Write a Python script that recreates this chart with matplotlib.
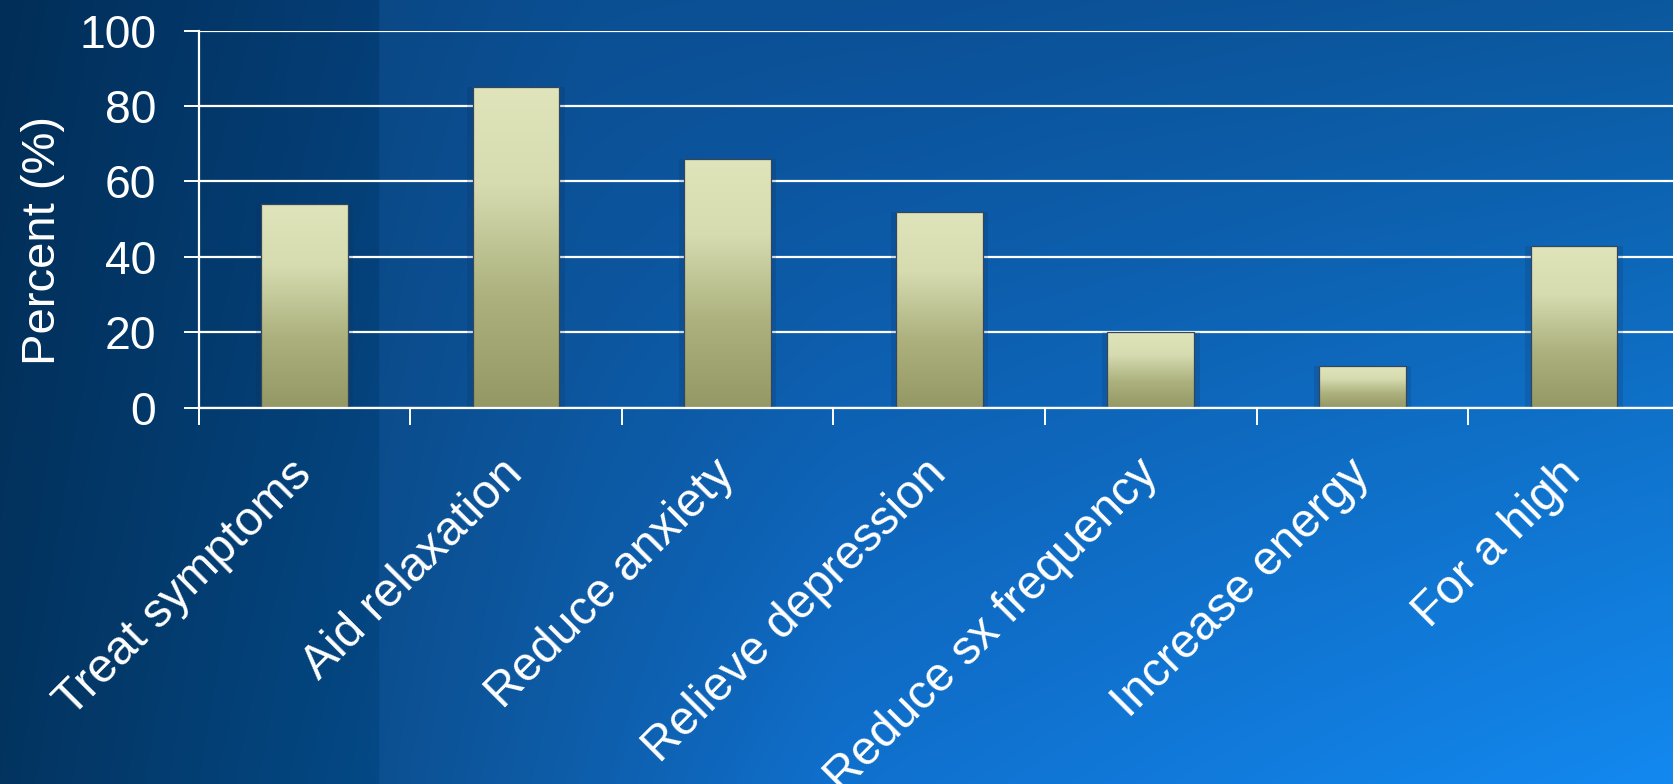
import numpy as np
import matplotlib
matplotlib.use("Agg")
import matplotlib.pyplot as plt

plt.rcParams['font.family'] = ['Liberation Sans', 'DejaVu Sans']

# Survey responses: reasons for use
categories = ["Treat symptoms", "Aid relaxation", "Reduce anxiety", "Relieve depression",
              "Reduce sx frequency", "Increase energy", "For a high"]
percent = [54, 85, 66, 52, 20, 11, 43]
y_ticks = [0, 20, 40, 60, 80, 100]

W, H = 1673, 784
fig = plt.figure(figsize=(W / 100, H / 100), dpi=100)

# Background: blue gradient, dark at the left, brightening toward the bottom right
bg_ax = fig.add_axes([0, 0, 1, 1], zorder=-10)
bg_ax.set_axis_off()
u = np.linspace(0, 1, W)
v = np.linspace(0, 1, H)[:, None]
top_stops = [(0.0, (1, 46, 88)), (0.226, (5, 62, 118)), (0.227, (10, 72, 134)),
             (0.35, (11, 79, 147)), (0.55, (11, 80, 150)), (1.0, (11, 88, 158))]
bot_stops = [(0.0, (3, 52, 96)), (0.226, (4, 73, 134)), (0.227, (12, 80, 145)),
             (0.5, (16, 112, 205)), (1.0, (19, 137, 240))]


def ramp(stops):
    xs = [s[0] for s in stops]
    return np.stack([np.interp(u, xs, [s[1][c] for s in stops]) for c in range(3)], axis=-1)


top_row = ramp(top_stops)[None, :, :]
bot_row = ramp(bot_stops)[None, :, :]
bg = (top_row * (1 - v[..., None]) + bot_row * v[..., None]) / 255.0
bg_ax.imshow(bg, extent=[0, 1, 0, 1], aspect='auto', interpolation='bilinear')
bg_ax.set_xlim(0, 1)
bg_ax.set_ylim(0, 1)

ax = fig.add_axes([0.1187, 0.4802, 0.8854, 0.4806])
ax.set_facecolor('none')

x = np.arange(len(categories))
bar_w = 0.41

# soft dark halo behind each bar
ax.bar(x, np.array(percent) + 1.4, width=bar_w + 0.05, bottom=-1.4,
       color='#0a2f5c', alpha=0.18, linewidth=0, zorder=2)

bars = ax.bar(x, percent, width=bar_w, color='none', edgecolor='#34465c',
              linewidth=0.9, zorder=4)

# vertical light-to-olive gradient inside each bar
stops_pos = [0.0, 0.3, 0.65, 1.0]
stops_col = np.array([(223, 228, 186), (214, 220, 176), (172, 177, 126), (148, 152, 100)]) / 255.0
t = np.linspace(0, 1, 256)
grad = np.stack([np.interp(t, stops_pos, stops_col[:, c]) for c in range(3)], axis=-1)[:, None, :]
for b in bars:
    x0 = b.get_x()
    im = ax.imshow(grad, extent=[x0, x0 + b.get_width(), 0, b.get_height()],
                   aspect='auto', origin='upper', zorder=3, interpolation='bilinear')
    im.set_clip_path(b)

ax.set_xlim(-0.5, len(categories) - 0.5)
ax.set_ylim(0, 100)
ax.set_yticks(y_ticks)
ax.set_yticklabels([str(t_) for t_ in y_ticks])
ax.yaxis.grid(True, color='white', linewidth=1.6, zorder=1)
ax.set_axisbelow(True)

# boundary tick marks between categories, labels at category centres
ax.set_xticks(np.arange(len(categories) + 1) - 0.5)
ax.set_xticklabels([])
ax.set_xticks(x, minor=True)
ax.set_xticklabels(categories, minor=True, rotation=45, ha='right',
                   rotation_mode='anchor', va='center')
ax.tick_params(axis='x', which='major', length=12, width=1.4, color='white', direction='out')
ax.tick_params(axis='x', which='minor', length=0, pad=43, labelsize=34.5, labelcolor='white')
ax.tick_params(axis='y', length=10.5, width=1.4, color='white', direction='out',
               pad=20, labelsize=33.3, labelcolor='white')

for s in ['top', 'right']:
    ax.spines[s].set_visible(False)
for s in ['left', 'bottom']:
    ax.spines[s].set_color('white')
    ax.spines[s].set_linewidth(1.6)
    ax.spines[s].set_zorder(5)

ax.set_ylabel("Percent (%)", fontsize=34, color='white', va='center')
ax.yaxis.set_label_coords(-0.1053, 0.442)

fig.savefig("out.png", dpi=100)
